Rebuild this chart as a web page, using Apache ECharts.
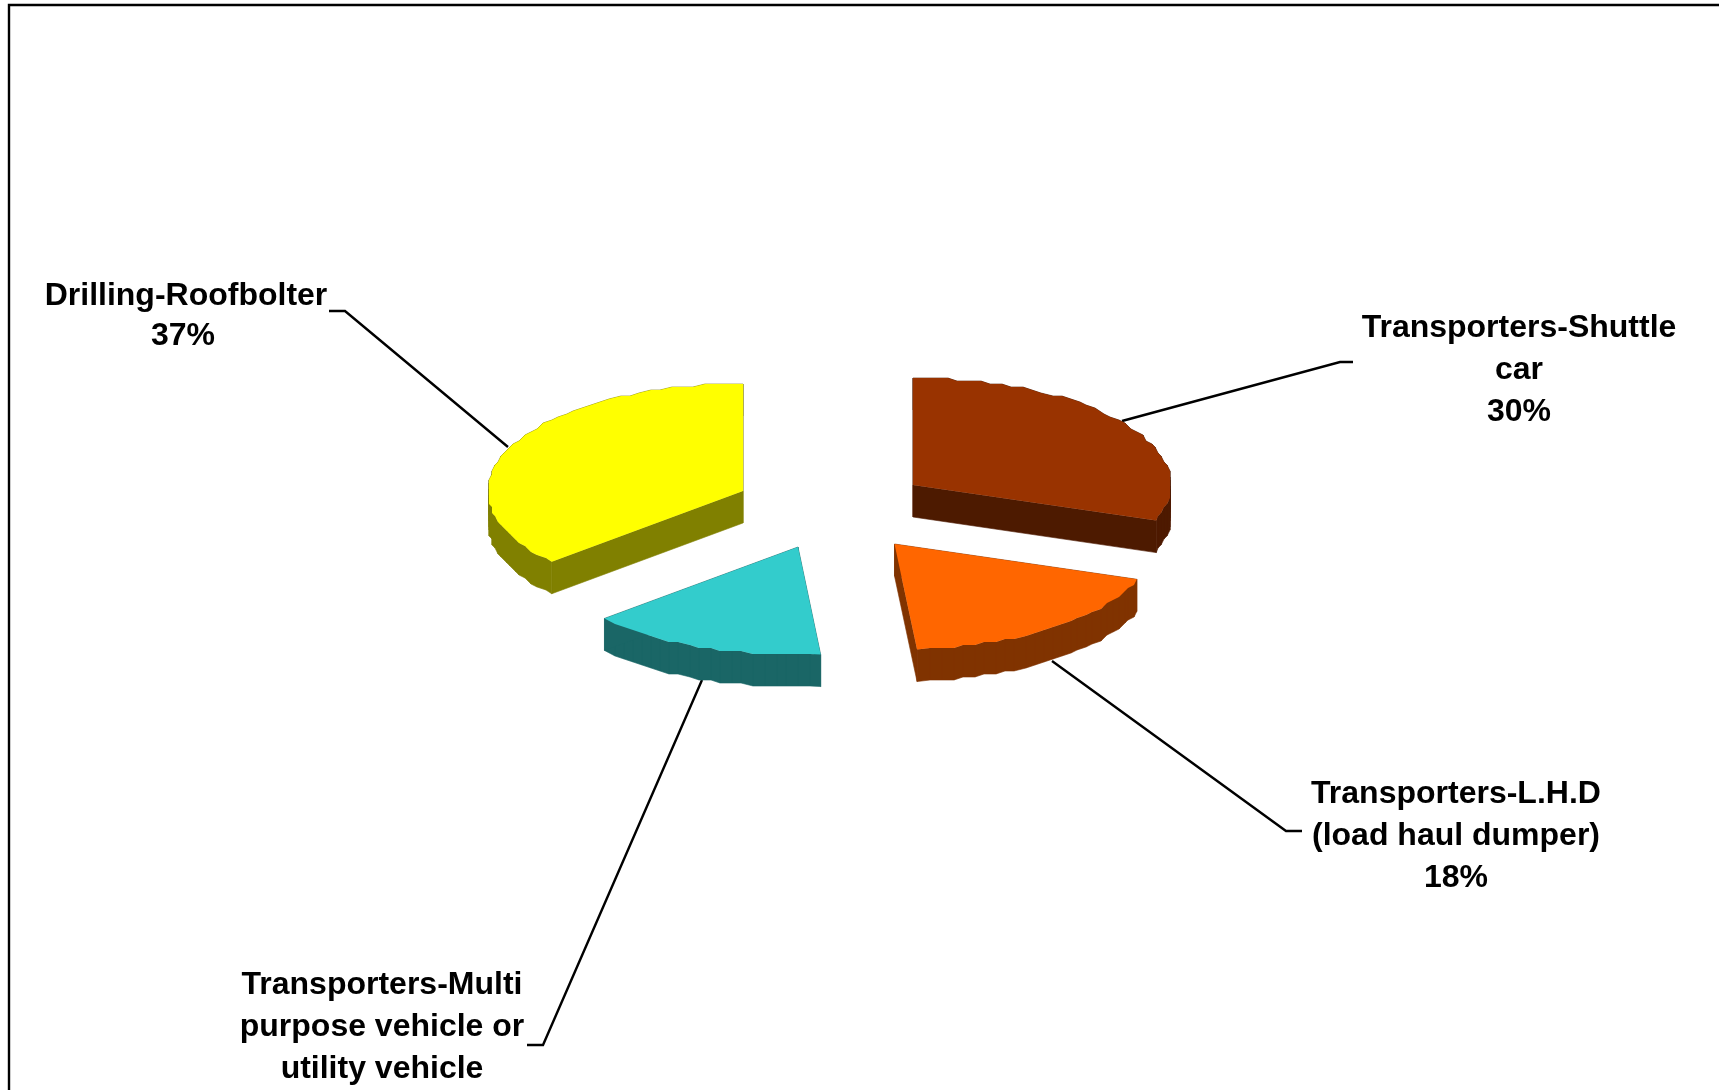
<!DOCTYPE html>
<html>
<head>
<meta charset="utf-8">
<style>html,body{margin:0;padding:0;background:#fff}#c{width:1719px;height:1090px}</style>
<script src="https://cdn.jsdelivr.net/npm/echarts@6/dist/echarts.min.js"></script>
</head>
<body>
<div id="c"></div>
<script>
// Data, clockwise from 12 o'clock
const categories = ['Transporters-Shuttle car', 'Transporters-L.H.D (load haul dumper)', 'Transporters-Multi purpose vehicle or utility vehicle', 'Drilling-Roofbolter'];
const values = [30.4, 18.2, 14.9, 36.5];
const labelLines = [['Transporters-Shuttle', 'car'], ['Transporters-L.H.D', '(load haul dumper)'], ['Transporters-Multi', 'purpose vehicle or', 'utility vehicle'], ['Drilling-Roofbolter']];
const showPercent = [true, true, false, true];

// Layout and styling
const topColors = ['#993300', '#FF6600', '#33CCCC', '#FFFF00'];
const sideColors = ['#4D1A00', '#803300', '#1A6666', '#808000'];
const apexes = [[913, 485], [894.5, 544], [798, 547], [743, 491]];
const radiiX = [258, 257, 258, 255];
const radiiY = [107, 106, 108, 107];
const depth = 32;
const labelCenters = [[1519, 328], [1456, 794], [382, 985], [186, 296]];
const lineGaps = [42, 42, 42, 40];
const percentShift = [0, 0, 0, -3];
const leaders = [
  [[1122, 421], [1340, 362], [1353, 362]],
  [[1052, 661], [1286, 831], [1302, 831]],
  [[702, 680], [543, 1045], [527, 1045]],
  [[508, 447], [345, 311], [329, 311]]
];
const FONT = 'bold 32px "Liberation Sans", Arial, sans-serif';
const SNAP = 3, STEP = Math.PI / 72;

const total = values.reduce((s, v) => s + v, 0);
function snap(v) { return Math.round(v / SNAP) * SNAP; }

function renderItem(params, api) {
  const i = params.dataIndex;
  const before = values.slice(0, i).reduce((s, v) => s + v, 0);
  const a0 = before / total * Math.PI * 2;
  const a1 = (before + api.value(0)) / total * Math.PI * 2;
  const [cx, cy] = apexes[i];
  const rx = radiiX[i], ry = radiiY[i];
  const pt = a => [cx + rx * Math.sin(a), cy - ry * Math.cos(a)];

  const poly = [[cx, cy], pt(a0)];
  for (let a = a0 + STEP; a < a1 - STEP / 2; a += STEP) {
    const p = pt(a);
    poly.push([snap(p[0]), snap(p[1])]);
  }
  poly.push(pt(a1));

  const children = [];
  children.push({ type: 'polyline', shape: { points: leaders[i] }, style: { stroke: '#000', lineWidth: 2.4, fill: null } });
  for (let k = 0; k < poly.length; k++) {
    const p = poly[k], q = poly[(k + 1) % poly.length];
    children.push({
      type: 'polygon',
      shape: { points: [p, q, [q[0], q[1] + depth], [p[0], p[1] + depth]] },
      style: { fill: sideColors[i], stroke: sideColors[i], lineWidth: 0.6 }
    });
  }
  children.push({ type: 'polygon', shape: { points: poly }, style: { fill: topColors[i] } });

  const [lx, ly] = labelCenters[i];
  const text = (t, n, dx) => children.push({
    type: 'text',
    style: { x: lx + dx, y: ly + n * lineGaps[i], text: t, font: FONT, fill: '#000', align: 'center', verticalAlign: 'middle' }
  });
  labelLines[i].forEach((t, n) => text(t, n, 0));
  if (showPercent[i]) text(Math.round(api.value(0)) + '%', labelLines[i].length, percentShift[i]);
  return { type: 'group', children };
}

const chart = echarts.init(document.getElementById('c'), null, { renderer: 'canvas', width: 1719, height: 1090 });
chart.setOption({
  animation: false,
  backgroundColor: '#fff',
  graphic: [{
    type: 'polyline',
    shape: { points: [[9, 1100], [9, 5], [1730, 5]] },
    style: { stroke: '#000', lineWidth: 2.4, fill: null },
    silent: true
  }],
  series: [{
    type: 'custom',
    coordinateSystem: 'none',
    silent: true,
    clip: false,
    renderItem,
    data: categories.map((name, i) => ({ name, value: [values[i]] }))
  }]
});
</script>
</body>
</html>
